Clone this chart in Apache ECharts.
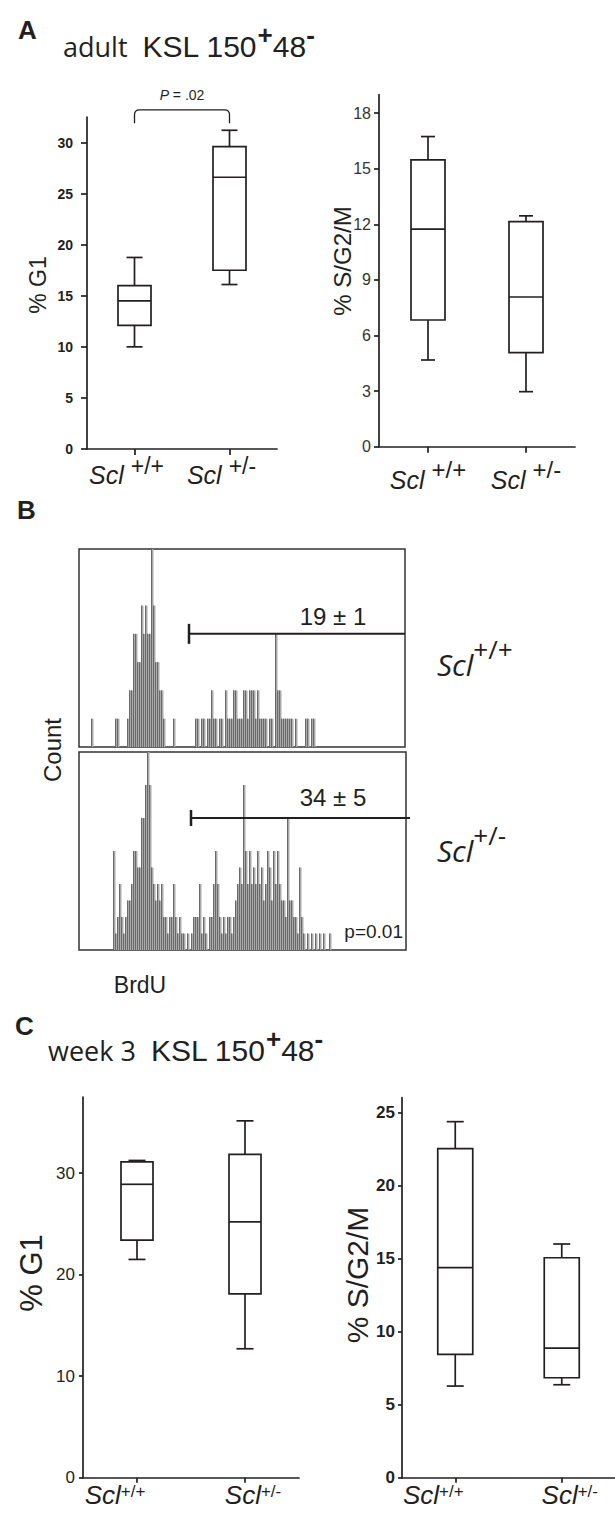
<!DOCTYPE html>
<html><head><meta charset="utf-8">
<script src="https://cdn.jsdelivr.net/npm/echarts@6/dist/echarts.min.js"></script>
<style>html,body{margin:0;padding:0;background:#fff}#c{width:615px;height:1517px}</style>
</head><body><div id="c"></div>
<script>
// ================= DATA =================
const gene = 'Scl';
const genotypes = ['+/+', '+/-'];
// box statistics per genotype: [min, Q1, median, Q3, max]
const adultG1   = [[10.0, 12.1, 14.5, 16.0, 18.75], [16.1, 17.5, 26.6, 29.6, 31.2]];
const adultSG2M = [[4.68, 6.84, 11.74, 15.48, 16.74], [2.97, 5.08, 8.08, 12.15, 12.46]];
const week3G1   = [[21.5, 23.4, 28.9, 31.1, 31.25], [12.7, 18.1, 25.2, 31.85, 35.15]];
const week3SG2M = [[6.27, 8.44, 14.37, 22.51, 24.36], [6.36, 6.84, 8.87, 15.05, 15.99]];
// y tick labels
const ticksAdultG1   = [0, 5, 10, 15, 20, 25, 30];
const ticksAdultSG2M = [0, 3, 6, 9, 12, 15, 18];
const ticksWeek3G1   = [0, 10, 20, 30];
const ticksWeek3SG2M = [0, 5, 10, 15, 20, 25];
// significance bracket (adult % G1): [from category, to category, leg bottom, bar top]
const bracketA = [0, 1, 31.9, 33.2];
const pTextA = ['P', ' = .02'];
// BrdU histograms: counts per channel bin
const brduWT = [
 0,0,0,0,0,0,1,0,0,0,
 0,0,0,0,0,0,0,0,1,1,
 0,0,0,0,1,2,2,4,4,3,
 3,5,4,5,4,4,7,5,3,3,
 2,2,1,0,0,0,0,1,0,0,
 0,0,0,0,0,0,0,0,1,1,
 0,1,1,0,1,1,2,1,1,0,
 1,1,0,2,1,1,1,2,2,1,
 1,1,2,2,1,2,2,2,1,2,
 1,1,1,1,0,1,1,0,4,2,
 2,1,1,1,1,1,1,0,1,0,
 0,0,0,1,1,0,1,1,0,0,
 0,0,0,0,0,0,0,0,0,0,
 0,0,0,0,0,0,0,0,0,0,
 0,0,0,0,0,0,0,0,0,0,
 0,0,0,0,0,0,0,0,0,0,
 0,0,0
];
const brduHet = [
 0,0,0,0,0,0,0,0,0,0,
 0,0,0,0,0,0,0,6,1,2,
 4,2,1,2,3,3,4,6,6,5,
 5,8,8,10,12,10,5,4,3,4,
 3,4,2,2,1,2,2,4,2,1,
 2,1,1,0,1,0,1,2,2,2,
 4,1,2,1,0,2,2,4,6,4,
 2,1,2,1,2,2,1,2,3,4,
 5,4,10,6,4,6,4,5,4,6,
 4,5,3,4,6,5,3,6,4,6,
 4,3,3,2,8,3,3,2,2,1,
 5,2,1,0,1,0,1,0,1,0,
 1,0,1,0,0,1,0,0,0,0,
 0,0,0,0,0,0,0,0,0,0,
 0,0,0,0,0,0,0,0,0,0,
 0,0,0,0,0,0,0,0,0,0,
 0,0,0,0
];
// gates: [start bin, end bin, count level, label centre bin]
const gateWT  = [55, 163, 4, 127];
const gateHet = [56, 165.5, 8, 127];
const gateLabels = ['19 \u00b1 1', '34 \u00b1 5'];
const pTextB = 'p=0.01';

// ================= STYLE =================
const INK = '#231f20';
const FONT = '"Liberation Sans", Arial, Helvetica, sans-serif';
const NARROW = '"Liberation Sans Narrow", "Liberation Sans", Arial, sans-serif';
const HUM = '"Open Sans", "Noto Sans", sans-serif';

const chart = echarts.init(document.getElementById('c'), null, {renderer: 'svg', width: 615, height: 1517});

function boxRender(boxW, capW) {
  return function (params, api) {
    const x = api.value(0);
    const p = [1, 2, 3, 4, 5].map(k => api.coord([x, api.value(k)]));
    const cx = p[0][0];
    const st = {stroke: INK, lineWidth: 1.7, fill: 'none'};
    return {type: 'group', children: [
      {type: 'line', shape: {x1: cx, y1: p[0][1], x2: cx, y2: p[1][1]}, style: st},
      {type: 'line', shape: {x1: cx, y1: p[3][1], x2: cx, y2: p[4][1]}, style: st},
      {type: 'line', shape: {x1: cx - capW / 2, y1: p[0][1], x2: cx + capW / 2, y2: p[0][1]}, style: st},
      {type: 'line', shape: {x1: cx - capW / 2, y1: p[4][1], x2: cx + capW / 2, y2: p[4][1]}, style: st},
      {type: 'rect', shape: {x: cx - boxW / 2, y: p[3][1], width: boxW, height: p[1][1] - p[3][1]}, style: {stroke: INK, lineWidth: 1.7, fill: '#fff'}},
      {type: 'line', shape: {x1: cx - boxW / 2, y1: p[2][1], x2: cx + boxW / 2, y2: p[2][1]}, style: st}
    ]};
  };
}
const boxData = stats => stats.map((s, i) => [i].concat(s));

function histRender(params, api) {
  const i = api.value(0), n = api.value(1);
  if (!n) return {type: 'group', children: []};
  const b = api.coord([i, 0]), t = api.coord([i + 1, n]);
  return {type: 'group', children: [
    {type: 'rect', shape: {x: b[0], y: t[1], width: t[0] - b[0] + 0.5, height: b[1] - t[1]}, style: {fill: '#aaaaaa'}},
    {type: 'line', shape: {x1: b[0] + 0.5, y1: b[1], x2: b[0] + 0.5, y2: t[1]}, style: {stroke: '#6a6a6a', lineWidth: 1}}
  ]};
}
function gateRender(label, tickHalf, labelDy) {
  return function (params, api) {
    const s = api.coord([api.value(0), api.value(2)]);
    const e = api.coord([api.value(1), api.value(2)]);
    const t = api.coord([api.value(3), api.value(2)]);
    return {type: 'group', children: [
      {type: 'line', shape: {x1: s[0], y1: s[1], x2: e[0], y2: e[1]}, style: {stroke: INK, lineWidth: 2}},
      {type: 'line', shape: {x1: s[0], y1: s[1] - tickHalf, x2: s[0], y2: s[1] + tickHalf}, style: {stroke: INK, lineWidth: 2.5}},
      {type: 'text', x: t[0], y: s[1] - labelDy, style: {text: label, font: '24px ' + FONT, fill: INK, align: 'center', verticalAlign: 'middle', textAlign: 'center', textVerticalAlign: 'middle'}}
    ]};
  };
}
function bracketRender(params, api) {
  const a = api.coord([api.value(0), api.value(2)]);
  const b = api.coord([api.value(1), api.value(3)]);
  const x0 = a[0], x1 = b[0], yb = a[1], yt = b[1], r = 5;
  const d = `M${x0} ${yb} L${x0} ${yt + r} Q${x0} ${yt} ${x0 + r} ${yt} L${x1 - r} ${yt} Q${x1} ${yt} ${x1} ${yt + r} L${x1} ${yb}`;
  return {type: 'group', children: [
    {type: 'path', shape: {pathData: d}, style: {stroke: INK, lineWidth: 1.3, fill: 'none'}},
    {type: 'text', x: (x0 + x1) / 2, y: yt - 15, style: {
      text: '{p|' + pTextA[0] + '}{n|' + pTextA[1] + '}', align: 'center', verticalAlign: 'middle', textAlign: 'center', textVerticalAlign: 'middle',
      rich: {p: {fontFamily: FONT, fontStyle: 'italic', fontSize: 14, fill: INK, color: INK}, n: {fontFamily: FONT, fontSize: 14, fill: INK, color: INK}}}}
  ]};
}

function catAxis(gridIndex, margin, rich, fmt, tickLen) {
  return {type: 'category', gridIndex, data: genotypes, boundaryGap: true,
    axisLine: {show: true, lineStyle: {color: INK, width: 1.7}},
    axisTick: {show: true, alignWithLabel: true, length: tickLen, lineStyle: {color: INK, width: 1.7}},
    axisLabel: {margin, formatter: fmt, rich, interval: 0},
    splitLine: {show: false}};
}
function valAxis(gridIndex, max, ticks, labelFont, tickLen, margin) {
  return {type: 'value', gridIndex, min: 0, max,
    axisLine: {show: true, lineStyle: {color: INK, width: 1.7}},
    axisTick: {show: true, length: tickLen, customValues: ticks, lineStyle: {color: INK, width: 1.7}},
    axisLabel: Object.assign({customValues: ticks, margin, formatter: v => ticks.indexOf(v) >= 0 ? String(v) : ''}, labelFont),
    splitLine: {show: false}};
}

const richA = {
  i: {fontFamily: FONT, fontStyle: 'italic', fontSize: 25, lineHeight: 41, color: INK},
  s: {fontFamily: FONT, fontSize: 23, lineHeight: 22, verticalAlign: 'top', padding: [0, 0, 0, 7], color: INK},
  p: {width: 16, fontSize: 10}
};
const richAR = {
  i: {fontFamily: FONT, fontStyle: 'italic', fontSize: 25, lineHeight: 44, color: INK},
  s: {fontFamily: FONT, fontSize: 24, lineHeight: 25, verticalAlign: 'top', padding: [0, 0, 0, 7], color: INK}
};
const richC = {
  i: {fontFamily: FONT, fontStyle: 'italic', fontSize: 26, lineHeight: 25, color: INK},
  s: {fontFamily: NARROW, fontSize: 17, lineHeight: 15, verticalAlign: 'top', color: INK},
  pr: {width: 44, fontSize: 10},
  pl: {width: 16, fontSize: 10}
};
const fmtA = v => '{i|' + gene + '}{s|' + v + '}{p| }';
const fmtAR = v => '{i|' + gene + '}{s|' + v + '}';
const fmtC = (v, idx) => idx === 0 ? '{i|' + gene + '}{s|' + v + '}{pr| }' : '{pl| }{i|' + gene + '}{s|' + v + '}';

const titleRich = {
  a: {fontFamily: HUM, fontSize: 27, lineHeight: 48, fill: INK, color: INK},
  k0: {fontFamily: FONT, fontSize: 30, lineHeight: 48, padding: [0, 0, 0, 15], fill: INK, color: INK},
  k: {fontFamily: FONT, fontSize: 30, lineHeight: 48, fill: INK, color: INK},
  s: {fontFamily: FONT, fontSize: 26, fontWeight: 'bold', lineHeight: 26, verticalAlign: 'top', fill: INK, color: INK},
  m: {fontFamily: FONT, fontSize: 26, fontWeight: 'bold', lineHeight: 24, verticalAlign: 'top', fill: INK, color: INK}
};
const sideRich = {
  i: {fontFamily: HUM, fontStyle: 'italic', fontSize: 30, lineHeight: 57, fill: INK, color: INK},
  s: {fontFamily: HUM, fontSize: 26, lineHeight: 26, verticalAlign: 'top', fill: INK, color: INK}
};
function txt(x, y, text, font, align, vAlign, rot) {
  return {type: 'text', x, y, rotation: rot || 0, style: {text, font, fill: INK, align, verticalAlign: vAlign, textAlign: align, textVerticalAlign: vAlign}};
}
function richTxt(x, y, text, rich) {
  return {type: 'text', x, y, style: {text, rich, fill: INK, align: 'left', verticalAlign: 'top', textAlign: 'left', textVerticalAlign: 'top'}};
}

const option = {
  animation: false,
  backgroundColor: '#fff',
  grid: [
    {left: 87, top: 117, width: 190, height: 332},
    {left: 379, top: 94.7, width: 196, height: 352},
    {left: 79, top: 549, width: 326, height: 198, show: true, borderColor: '#333', borderWidth: 1.5, backgroundColor: 'transparent'},
    {left: 79, top: 752, width: 327, height: 198, show: true, borderColor: '#333', borderWidth: 1.5, backgroundColor: 'transparent'},
    {left: 83, top: 1097, width: 216, height: 380.7},
    {left: 402, top: 1097.7, width: 213, height: 380}
  ],
  xAxis: [
    catAxis(0, 5, richA, fmtA, 6),
    catAxis(1, 11, richAR, fmtAR, 6),
    {type: 'value', gridIndex: 2, min: 0, max: 163, show: false},
    {type: 'value', gridIndex: 3, min: 0, max: 163.5, show: false},
    catAxis(4, 5, richC, fmtC, 5),
    catAxis(5, 5, richC, fmtC, 5)
  ],
  yAxis: [
    valAxis(0, 32.5, ticksAdultG1, {fontFamily: FONT, fontWeight: 'bold', fontSize: 14, color: INK}, 6, 14),
    valAxis(1, 19, ticksAdultSG2M, {fontFamily: FONT, fontSize: 16, color: '#333'}, 5, 8),
    {type: 'value', gridIndex: 2, min: 0, max: 7, show: false},
    {type: 'value', gridIndex: 3, min: 0, max: 12, show: false},
    valAxis(4, 37.5, ticksWeek3G1, {fontFamily: NARROW, fontSize: 17, color: INK}, 4, 8),
    valAxis(5, 26, ticksWeek3SG2M, {fontFamily: NARROW, fontWeight: 'bold', fontSize: 17, color: INK}, 4, 7)
  ],
  series: [
    {type: 'custom', xAxisIndex: 0, yAxisIndex: 0, renderItem: boxRender(33, 16), data: boxData(adultG1), encode: {x: 0, y: [1, 2, 3, 4, 5]}},
    {type: 'custom', xAxisIndex: 0, yAxisIndex: 0, renderItem: bracketRender, data: [bracketA], encode: {x: [0, 1], y: [2, 3]}, clip: false},
    {type: 'custom', xAxisIndex: 1, yAxisIndex: 1, renderItem: boxRender(34, 14), data: boxData(adultSG2M), encode: {x: 0, y: [1, 2, 3, 4, 5]}},
    {type: 'custom', xAxisIndex: 2, yAxisIndex: 2, renderItem: histRender, data: brduWT.map((n, i) => [i, n]), encode: {x: 0, y: 1}},
    {type: 'custom', xAxisIndex: 3, yAxisIndex: 3, renderItem: histRender, data: brduHet.map((n, i) => [i, n]), encode: {x: 0, y: 1}},
    {type: 'custom', xAxisIndex: 2, yAxisIndex: 2, renderItem: gateRender(gateLabels[0], 10, 17), data: [gateWT], encode: {x: [0, 1, 3], y: 2}, clip: false, z: 5},
    {type: 'custom', xAxisIndex: 3, yAxisIndex: 3, renderItem: gateRender(gateLabels[1], 8, 21), data: [gateHet], encode: {x: [0, 1, 3], y: 2}, clip: false, z: 5},
    {type: 'custom', xAxisIndex: 4, yAxisIndex: 4, renderItem: boxRender(32, 17), data: boxData(week3G1), encode: {x: 0, y: [1, 2, 3, 4, 5]}},
    {type: 'custom', xAxisIndex: 5, yAxisIndex: 5, renderItem: boxRender(35, 17), data: boxData(week3SG2M), encode: {x: 0, y: [1, 2, 3, 4, 5]}}
  ],
  graphic: [
    txt(18, 17, 'A', 'bold 26px ' + FONT, 'left', 'top'),
    richTxt(63, 22, '{a|adult}{k0|KSL 150}{s|+}{k|48}{m|-}', titleRich),
    txt(17, 497, 'B', 'bold 26px ' + FONT, 'left', 'top'),
    txt(52, 750, 'Count', '24px ' + FONT, 'center', 'middle', Math.PI / 2),
    txt(140, 985, 'BrdU', '23px ' + FONT, 'center', 'middle'),
    richTxt(437, 635.5, '{i|' + gene + '}{s|' + genotypes[0] + '}', sideRich),
    richTxt(437, 822, '{i|' + gene + '}{s|' + genotypes[1] + '}', sideRich),
    txt(403, 931, pTextB, '19px ' + FONT, 'right', 'middle'),
    txt(15, 1013, 'C', 'bold 26px ' + FONT, 'left', 'top'),
    richTxt(48, 1026, '{a|week 3}{k0|KSL 150}{s|+}{k|48}{m|-}', titleRich),
    txt(38, 285, '% G1', '23px ' + FONT, 'center', 'middle', Math.PI / 2),
    txt(342, 261, '% S/G2/M', '24px ' + FONT, 'center', 'middle', Math.PI / 2),
    txt(31, 1273, '% G1', '31px ' + FONT, 'center', 'middle', Math.PI / 2),
    txt(357, 1275, '% S/G2/M', '30px ' + FONT, 'center', 'middle', Math.PI / 2)
  ]
};
chart.setOption(option);
</script>
</body></html>
